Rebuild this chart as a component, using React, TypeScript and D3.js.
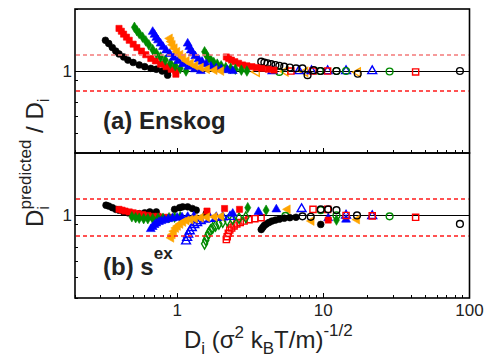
import React from "react";
import * as d3 from "d3";

// ---------- colours ----------
const BLACK = "#000000";
const RED = "#ff0000";
const GREEN = "#008a00";
const BLUE = "#0000ff";
const ORANGE = "#ffa500";

// ---------- tick labels ----------
const X_TICK_LABELS = [1, 10, 100];
const Y_TICK_LABELS = [1];
const DASH_LEVELS = [1.2, 0.8];

// ---------- panel (a) Enskog ----------
const A1_D = [0.323, 0.34, 0.36, 0.38, 0.4, 0.43, 0.46, 0.5, 0.55, 0.6, 0.66, 0.72, 0.79, 0.86, 0.86];
const A1_R = [1.41, 1.36, 1.3, 1.25, 1.21, 1.17, 1.13, 1.1, 1.07, 1.05, 1.03, 1.02, 1.0, 0.99, 0.955];
const A2_D = [0.4, 0.415, 0.43, 0.45, 0.47, 0.5, 0.53, 0.57, 0.61, 0.66, 0.71, 0.77, 0.84, 0.91, 0.98, 0.98];
const A2_R = [1.61, 1.56, 1.51, 1.46, 1.41, 1.35, 1.3, 1.25, 1.2, 1.15, 1.12, 1.08, 1.05, 1.02, 1.0, 0.965];
const A3_D = [0.51, 0.53, 0.55, 0.58, 0.61, 0.64, 0.68, 0.72, 0.77, 0.83, 0.9, 0.97, 1.05, 1.15];
const A3_R = [1.63, 1.57, 1.52, 1.46, 1.4, 1.34, 1.27, 1.22, 1.17, 1.13, 1.09, 1.06, 1.03, 1.0];
const A4_D = [0.68, 0.7, 0.72, 0.74, 0.77, 0.8, 0.84, 0.89, 0.95, 1.02, 1.1, 1.2, 1.32, 1.45];
const A4_R = [1.55, 1.5, 1.45, 1.41, 1.36, 1.31, 1.26, 1.21, 1.16, 1.12, 1.08, 1.05, 1.02, 1.0];
const A5_D = [0.89, 0.91, 0.93, 0.96, 1.0, 1.05, 1.1, 1.16, 1.24, 1.33, 1.45, 1.6, 1.8, 2.0];
const A5_R = [1.44, 1.39, 1.34, 1.29, 1.24, 1.2, 1.16, 1.12, 1.09, 1.06, 1.04, 1.02, 1.01, 1.0];
const A6_D = [1.18, 1.21, 1.24, 1.28, 1.33, 1.4, 1.48, 1.58, 1.7, 1.85, 2.0, 2.2, 2.4];
const A6_R = [1.36, 1.31, 1.26, 1.22, 1.18, 1.14, 1.11, 1.08, 1.05, 1.03, 1.02, 1.01, 1.0];
const A7_D = [1.54, 1.58, 1.63, 1.7, 1.78, 1.88, 2.0, 2.15, 2.32, 2.5, 2.75, 3.0];
const A7_R = [1.24, 1.2, 1.16, 1.13, 1.1, 1.08, 1.06, 1.04, 1.03, 1.02, 1.01, 1.0];
const A8_D = [2.17, 2.25, 2.35, 2.48, 2.63, 2.8, 3.0, 3.25, 3.5, 3.8, 4.2, 4.6];
const A8_R = [1.17, 1.15, 1.13, 1.11, 1.09, 1.07, 1.06, 1.05, 1.04, 1.03, 1.02, 1.01];
const A9_D = [3.76, 3.95, 4.15, 4.4, 4.7, 5.0, 5.4, 5.9, 6.5, 7.2];
const A9_R = [1.11, 1.1, 1.09, 1.08, 1.07, 1.06, 1.05, 1.04, 1.03, 1.03];
const AT_BLACK_D = [7.8, 8.6, 9.6, 12.3, 17.2, 86];
const AT_BLACK_R = [0.955, 1.01, 1.0, 1.0, 0.97, 1.0];
const AT_RED_D = [6.0, 8.5, 10.7, 42.8];
const AT_RED_R = [1.0, 1.0, 1.0, 0.99];
const AT_GREEN_D = [5.0, 9.45, 12.3, 14.3, 28.4];
const AT_GREEN_R = [0.99, 1.0, 1.0, 1.0, 0.995];
const AT_BLUE_D = [4.5, 6.8, 8.3, 10.7, 14.3, 21.6];
const AT_BLUE_R = [1.0, 1.0, 1.0, 1.0, 1.0, 1.0];
const AT_ORANGE_D = [3.5, 5.5, 7.5, 17.2];
const AT_ORANGE_R = [0.99, 0.995, 0.99, 0.985];

// ---------- panel (b) s^ex ----------
const B1_D = [0.326, 0.34, 0.36, 0.38, 0.4, 0.43, 0.46, 0.5, 0.55, 0.6, 0.65, 0.72];
const B1_R = [1.12, 1.11, 1.09, 1.07, 1.06, 1.04, 1.03, 1.02, 1.02, 1.03, 1.04, 1.04];
const B1H_D = [0.96, 1.04, 1.09, 1.18, 1.27, 1.35, 1.58];
const B1H_R = [1.07, 1.09, 1.1, 1.1, 1.08, 1.06, 1.02];
const B2_D = [0.4, 0.42, 0.44, 0.47, 0.5, 0.54, 0.58, 0.63, 0.68, 0.74, 0.8, 0.88, 1.6, 2.11, 2.67];
const B2_R = [1.07, 1.06, 1.05, 1.04, 1.03, 1.02, 1.01, 1.0, 0.99, 0.99, 0.98, 0.98, 1.05, 1.08, 1.07];
const B3_D = [0.49, 0.52, 0.55, 0.59, 0.63, 0.68, 0.74, 0.8, 0.88, 0.96, 1.05, 3.04, 4.06];
const B3_R = [0.985, 0.975, 0.97, 0.965, 0.965, 0.965, 0.97, 0.97, 0.975, 0.98, 0.985, 1.09, 1.06];
const B4_D = [0.66, 0.68, 0.7, 0.72, 0.75, 0.78, 0.82, 0.87, 0.93, 1.0, 1.08, 1.18, 1.3, 2.4, 3.6];
const B4_R = [0.86, 0.88, 0.9, 0.915, 0.93, 0.94, 0.95, 0.96, 0.97, 0.975, 0.98, 0.985, 0.99, 1.02, 1.04];
const B5_D = [0.91, 0.93, 0.95, 0.98, 1.01, 1.05, 1.1, 1.16, 1.23, 1.32, 1.45, 1.6, 1.8, 2.0];
const B5_R = [0.78, 0.81, 0.84, 0.87, 0.89, 0.91, 0.93, 0.945, 0.955, 0.965, 0.975, 0.98, 0.985, 0.99];
const B6_D = [1.15, 1.17, 1.19, 1.22, 1.26, 1.31, 1.37, 1.45, 1.55, 1.68, 1.85, 2.05, 2.3];
const B6_R = [0.75, 0.78, 0.81, 0.84, 0.87, 0.9, 0.92, 0.94, 0.955, 0.965, 0.975, 0.98, 0.985];
const B7_D = [1.54, 1.57, 1.6, 1.64, 1.69, 1.75, 1.83, 1.93, 2.05, 2.2, 2.4, 2.65, 2.95];
const B7_R = [0.73, 0.76, 0.79, 0.82, 0.85, 0.87, 0.89, 0.91, 0.93, 0.945, 0.96, 0.97, 0.98];
const B8_D = [2.17, 2.2, 2.24, 2.29, 2.36, 2.45, 2.56, 2.7, 2.87, 3.1, 3.4, 3.75];
const B8_R = [0.765, 0.79, 0.82, 0.85, 0.87, 0.89, 0.91, 0.925, 0.94, 0.955, 0.965, 0.975];
const B9_D = [3.76, 3.85, 3.95, 4.08, 4.25, 4.45, 4.7, 5.0, 5.4, 5.9, 6.5];
const B9_R = [0.855, 0.875, 0.895, 0.91, 0.925, 0.94, 0.95, 0.96, 0.97, 0.975, 0.98];
const BT_BLACK_D = [7.2, 8.2, 9.6, 10.8, 12.3, 17.0, 86];
const BT_BLACK_R = [0.99, 0.985, 1.07, 1.07, 1.06, 1.0, 0.91];
const BT_BLACKF_D = [9.6];
const BT_BLACKF_R = [0.905];
const BT_RED_D = [8.5, 10.7, 14.3, 21.6, 42.8];
const BT_RED_R = [1.07, 1.07, 1.0, 0.995, 0.98];
const BT_REDF_D = [10.8];
const BT_REDF_R = [0.95];
const BT_GREEN_D = [5.5, 9.6, 12.3, 28.4];
const BT_GREEN_R = [0.995, 1.06, 1.0, 0.99];
const BT_GREENF_D = [12.3];
const BT_GREENF_R = [0.95];
const BT_BLUEF_D = [4.77, 10.8, 14.3];
const BT_BLUEF_R = [1.07, 0.97, 0.955];
const BT_BLUE_D = [7.1, 14.3, 21.6];
const BT_BLUE_R = [1.075, 1.0, 0.995];
const BT_ORANGE_D = [5.7, 8.3, 17.0];
const BT_ORANGE_R = [1.07, 0.94, 0.955];

type Shape = "circle" | "square" | "diamond" | "triangle" | "left";
interface Series { d: number[]; r: number[]; color: string; shape: Shape; filled: boolean; }

const S = (d: number[], r: number[], color: string, shape: Shape, filled: boolean): Series => ({ d, r, color, shape, filled });

const PANEL_A: Series[] = [
  S(AT_ORANGE_D, AT_ORANGE_R, ORANGE, "left", false),
  S(AT_BLUE_D, AT_BLUE_R, BLUE, "triangle", false),
  S(AT_GREEN_D, AT_GREEN_R, GREEN, "circle", false),
  S(AT_RED_D, AT_RED_R, RED, "square", false),
  S(AT_BLACK_D, AT_BLACK_R, BLACK, "circle", false),
  S(A9_D, A9_R, BLACK, "circle", false),
  S(A8_D, A8_R, RED, "square", true),
  S(A7_D, A7_R, GREEN, "diamond", true),
  S(A6_D, A6_R, BLUE, "triangle", true),
  S(A1_D, A1_R, BLACK, "circle", true),
  S(A2_D, A2_R, RED, "square", true),
  S(A3_D, A3_R, GREEN, "diamond", true),
  S(A4_D, A4_R, BLUE, "triangle", true),
  S(A5_D, A5_R, ORANGE, "left", true),
];

const PANEL_B: Series[] = [
  S(BT_ORANGE_D, BT_ORANGE_R, ORANGE, "left", true),
  S(BT_BLUE_D, BT_BLUE_R, BLUE, "triangle", false),
  S(BT_BLUEF_D, BT_BLUEF_R, BLUE, "triangle", true),
  S(BT_GREEN_D, BT_GREEN_R, GREEN, "circle", false),
  S(BT_GREENF_D, BT_GREENF_R, GREEN, "diamond", true),
  S(BT_RED_D, BT_RED_R, RED, "square", false),
  S(BT_REDF_D, BT_REDF_R, RED, "square", true),
  S(BT_BLACK_D, BT_BLACK_R, BLACK, "circle", false),
  S(BT_BLACKF_D, BT_BLACKF_R, BLACK, "circle", true),
  S(B9_D, B9_R, BLACK, "circle", true),
  S(B8_D, B8_R, RED, "square", false),
  S(B7_D, B7_R, GREEN, "diamond", false),
  S(B6_D, B6_R, BLUE, "triangle", false),
  S(B1_D, B1_R, BLACK, "circle", true),
  S(B1H_D, B1H_R, BLACK, "circle", true),
  S(B2_D, B2_R, RED, "square", true),
  S(B3_D, B3_R, GREEN, "diamond", true),
  S(B4_D, B4_R, BLUE, "triangle", true),
  S(B5_D, B5_R, ORANGE, "left", true),
];

const W = 485, H = 358;
const L = 75, R = 469.5, TOP = 9, MID = 153, BOT = 298;
const FONT = "'Liberation Sans', Arial, Helvetica, sans-serif";

const x = d3.scaleLog().domain([0.2, 100]).range([L, R]);
const ya = d3.scaleLog().domain([0.4, 2]).range([MID, TOP]);
const yb = d3.scaleLog().domain([0.4, 2]).range([BOT, MID]);
const snap = (v: number) => Math.round(v - 0.5) + 0.5;

const symTypes: Record<Shape, d3.SymbolType> = {
  circle: d3.symbolCircle,
  square: d3.symbolSquare,
  diamond: d3.symbolDiamond,
  triangle: d3.symbolTriangle,
  left: d3.symbolTriangle,
};
const symSizes: Record<Shape, number> = { circle: 36, square: 38, diamond: 32, triangle: 34, left: 34 };

function Marks({ series, y }: { series: Series[]; y: d3.ScaleLogarithmic<number, number> }) {
  return (
    <g>
      {series.map((s, si) => {
        const path = d3.symbol().type(symTypes[s.shape]).size(symSizes[s.shape])() as string;
        return s.d.map((dv, i) => (
          <path
            key={`${si}-${i}`}
            d={path}
            transform={`translate(${x(dv)},${y(s.r[i])})${s.shape === "left" ? " rotate(-90)" : ""}`}
            fill={s.filled ? s.color : "none"}
            stroke={s.color}
            strokeWidth={s.filled ? 0.6 : 1.4}
          />
        ));
      })}
    </g>
  );
}

function Panel({ y, series, top, bottom, upperDash }: { y: d3.ScaleLogarithmic<number, number>; series: Series[]; top: number; bottom: number; upperDash: string }) {
  const xt = x.ticks();
  const yt = y.ticks().filter((t) => Math.abs(t - 0.8) > 1e-6);
  return (
    <g>
      <line x1={L} x2={R} y1={snap(y(1))} y2={snap(y(1))} stroke="#000" strokeWidth={1} />
      <Marks series={series} y={y} />
      {DASH_LEVELS.map((v, i) => (
        <line key={v} x1={L + 1} x2={R - 1} y1={Math.round(y(v))} y2={Math.round(y(v))} stroke={i === 0 ? upperDash : "#ff1a1a"} strokeWidth={i === 0 ? 1.6 : 1.4} strokeDasharray="4,3" />
      ))}
      {xt.map((t) => {
        const major = Math.abs(Math.log10(t) - Math.round(Math.log10(t))) < 1e-9;
        return <line key={t} x1={snap(x(t))} x2={snap(x(t))} y1={bottom} y2={bottom - (major ? 5 : 3)} stroke="#000" strokeWidth={1} />;
      })}
      {yt.map((t) => {
        const major = Math.abs(Math.log10(t) - Math.round(Math.log10(t))) < 1e-9;
        return <line key={t} x1={L} x2={L + (major ? 5 : 3)} y1={snap(y(t))} y2={snap(y(t))} stroke="#000" strokeWidth={1} />;
      })}
      {Y_TICK_LABELS.map((t) => (
        <text key={t} x={L - 3} y={y(t) + 6} textAnchor="end" fontSize={17} fontFamily={FONT} fill="#222">{t}</text>
      ))}
      <rect x={L} y={top} width={R - L} height={bottom - top} fill="none" stroke="#000" strokeWidth={1.6} />
    </g>
  );
}

export default function App() {
  return (
    <svg width={W} height={H} viewBox={`0 0 ${W} ${H}`} style={{ position: "absolute", left: 0, top: 0, display: "block", background: "#fff" }}>
      <rect x={0} y={0} width={W} height={H} fill="#fff" />
      <Panel y={ya} series={PANEL_A} top={TOP} bottom={MID} upperDash="#f47a7a" />
      <Panel y={yb} series={PANEL_B} top={MID} bottom={BOT} upperDash="#ff1a1a" />
      <text x={103} y={129} fontSize={24} fontWeight="bold" fontFamily={FONT} fill="#222">(a) Enskog</text>
      <text x={103} y={275} fontSize={24} fontWeight="bold" fontFamily={FONT} fill="#222">
        (b) s<tspan dy={-16} fontSize={17}>ex</tspan>
      </text>
      {X_TICK_LABELS.map((t) => (
        <text key={t} x={x(t)} y={316} textAnchor="middle" fontSize={17} fontFamily={FONT} fill="#222">{t}</text>
      ))}
      <text x={184} y={348} fontSize={24} fontFamily={FONT} fill="#222">
        D<tspan dy={6} fontSize={17}>i</tspan>
        <tspan dy={-6}> (σ</tspan>
        <tspan dy={-10} fontSize={17}>2</tspan>
        <tspan dy={10}> k</tspan>
        <tspan dy={6} fontSize={17}>B</tspan>
        <tspan dy={-6}>T/m)</tspan>
        <tspan dy={-12} fontSize={17}>-1/2</tspan>
      </text>
      <g transform="translate(43,227) rotate(-90)">
        <text x={0} y={0} fontSize={24} fontFamily={FONT} fill="#222">
          D<tspan dy={6} fontSize={17}>i</tspan>
          <tspan x={17.5} dy={-18} fontSize={17}>predicted</tspan>
          <tspan dy={12}> / D</tspan>
          <tspan dy={6} fontSize={17}>i</tspan>
        </text>
      </g>
    </svg>
  );
}
